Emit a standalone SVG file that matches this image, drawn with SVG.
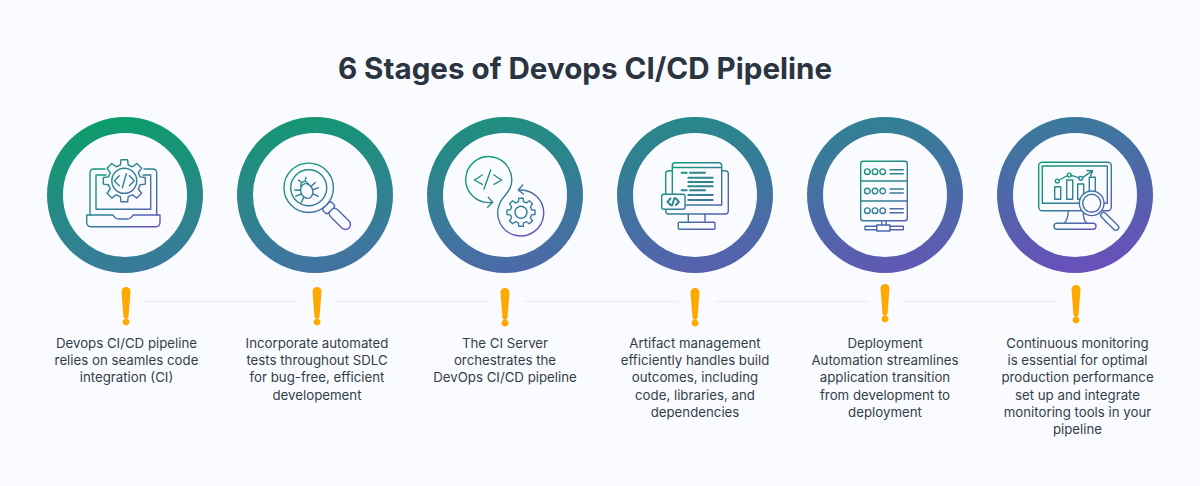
<svg xmlns="http://www.w3.org/2000/svg" xmlns:xlink="http://www.w3.org/1999/xlink" width="1200" height="486" viewBox="0 0 1200 486">
<style>
.bg{fill:#fafbfe}
.ring{fill:none;stroke:url(#ringG);stroke-width:16}
.i{fill:none;stroke:url(#iconG);stroke-width:1.4;stroke-linecap:round;stroke-linejoin:round}
.f{fill:#fafbfe}
.b{stroke-width:2}
.bang{fill:#ffa800}
.link{stroke:#ededf0;stroke-width:1.5}
.t{font-family:Inter,"Liberation Sans",sans-serif;font-size:13.25px;fill:#333d4a;text-anchor:middle}
.title{font-family:Inter,"Liberation Sans",sans-serif;font-size:29.6px;font-weight:700;fill:#2b3440;text-anchor:middle}
</style>
<defs>
<linearGradient id="ringG" gradientUnits="userSpaceOnUse" x1="100" y1="117" x2="150" y2="425">
<stop offset="0" stop-color="#0b9e6a"/><stop offset=".5" stop-color="#3a7a9b"/><stop offset="1" stop-color="#6a4fbb"/>
</linearGradient>
<linearGradient id="iconG" gradientUnits="userSpaceOnUse" x1="-28" y1="-30" x2="30" y2="34">
<stop offset="0" stop-color="#0f9d74"/><stop offset=".55" stop-color="#3a7a9b"/><stop offset="1" stop-color="#6a50c0"/>
</linearGradient>
<path id="bang" d="M-4.5 -13.5a4.5 4.5 0 0 1 9 0L2.6 11a2.6 2.6 0 0 1 -5.2 0ZM0 13.5a3.5 3.5 0 1 0 .01 0Z"/>
</defs>
<rect class="bg" width="1200" height="486"/>
<text class="title" x="585" y="79">6 Stages of Devops CI/CD Pipeline</text>
<g id="connectors">
<line class="link" x1="144" y1="301.5" x2="296" y2="301.5"/>
<line class="link" x1="335" y1="301.5" x2="487" y2="301.5"/>
<line class="link" x1="525" y1="301.5" x2="678" y2="301.5"/>
<line class="link" x1="715" y1="301.5" x2="868" y2="301.5"/>
<line class="link" x1="905" y1="301.5" x2="1057" y2="301.5"/>
</g>
<g id="stage1">
<circle class="ring" cx="125" cy="195" r="70"/>
<g transform="translate(125,195)">
<path class="i" d="M-20 -26H-31Q-35 -26 -35 -22V20M-19 -20H-29V14.3H25.7V-20H18M19 -26H27.7Q31.7 -26 31.7 -22V20"/>
<path class="i" d="M-38.3 20H-12Q-10 24 -6 24H2Q6 24 8 20H35V27Q35 31.7 31 31.7H-34Q-38.3 31.7 -38.3 27Z"/>
<g transform="translate(-.7,-14.2)">
<path class="i f" d="M21 3.3 15.8 3.9 14 8.2 17.3 12.5 12.5 17.3 8.2 14 3.9 15.8 3.3 21H-3.3L-3.9 15.8-8.2 14-12.5 17.3-17.3 12.5-14 8.2-15.8 3.9-21 3.3V-3.3L-15.8 -3.9-14 -8.2-17.3 -12.5-12.5 -17.3-8.2 -14-3.9 -15.8-3.3 -21H3.3L3.9 -15.8 8.2 -14 12.5 -17.3 17.3 -12.5 14 -8.2 15.8 -3.9 21 -3.3Z"/>
<circle class="i" r="12.5"/>
<path class="i" d="M-5 -5-10 0-5 5M5 -5 10 0 5 5M2 -7-2 7"/>
</g>
</g>
</g>
<g id="stage2">
<circle class="ring" cx="315" cy="195" r="70"/>
<g transform="translate(315,195)">
<g transform="translate(-6.3,-7.2) rotate(45)">
<rect class="i" x="31" y="-5" width="26" height="10" rx="5"/>
<rect class="i f" x="24.7" y="-6" width="7" height="12" rx="2"/>
</g>
<circle class="i f" cx="-6.3" cy="-7.2" r="24.7"/>
<circle class="i" cx="-6.3" cy="-7.2" r="18"/>
<g transform="translate(-8.3,-4) rotate(-20)">
<ellipse class="i" rx="6" ry="7.5"/>
<path class="i" d="M-4 -6Q-3 -10 0 -10T4 -6M-2 -10-4 -13M2 -10 4 -13M-6 -3-11 -5M6 -3 11 -5M-6 1-12 1M6 1 12 1M-5 5-9 9M5 5 9 9"/>
</g>
</g>
</g>
<g id="stage3">
<circle class="ring" cx="505" cy="195" r="70"/>
<g transform="translate(505,195)">
<path class="i" d="M-14 7.5A23 23 0 1 1 5.5 -8C3.5 -2 -3.5 3 -5.5 9A23 23 0 1 0 14 -5M-16.7 2.3-12.3 7.3-17.3 12.3M17.7 -10 13.3 -5 18.3 -1"/>
<path class="i" d="M-22.7 -20-30.7 -15-22.7 -10.7M-14.3 -25-21 -6M-11 -20-3.3 -15-11 -10.7"/>
<g transform="translate(16,17.3)">
<path class="i" d="M14 2.2 10.5 2.6 9.4 5.5 11.5 8.4 8.4 11.5 5.5 9.4 2.6 10.5 2.2 14H-2.2L-2.6 10.5-5.5 9.4-8.4 11.5-11.5 8.4-9.4 5.5-10.5 2.6-14 2.2V-2.2L-10.5 -2.6-9.4 -5.5-11.5 -8.4-8.4 -11.5-5.5 -9.4-2.6 -10.5-2.2 -14H2.2L2.6 -10.5 5.5 -9.4 8.4 -11.5 11.5 -8.4 9.4 -5.5 10.5 -2.6 14 -2.2Z"/>
<circle class="i" r="6"/>
</g>
</g>
</g>
<g id="stage4">
<circle class="ring" cx="695" cy="195" r="70"/>
<g transform="translate(695,195)">
<path class="i" d="M-6.7 19V26.7M10 19V26.7"/>
<rect class="i" x="-16.7" y="27.3" width="36.7" height="7" rx="1"/>
<path class="i" d="M-22.7 -24.3H-26.3Q-29.3 -24.3 -29.3 -21.3V16Q-29.3 19 -26.3 19H30.3Q33.3 19 33.3 16V-21.3Q33.3 -24.3 30.3 -24.3H26.7"/>
<path class="i" d="M-22.7 -1V-29.3Q-22.7 -32.3 -19.7 -32.3H23.7Q26.7 -32.3 26.7 -29.3V10H-10M-22.7 -27.5H26.7"/>
<path class="i b" d="M-13.3 -22.3H-8.3M-5 -22.3H10M-6.7 -17.3H-1.7M0 -17.3H17.7M-6.7 -13H-1.7M0 -13H17.7M-6.7 -8.7H-1.7M0 -8.7H17.7M-13.3 -4.7H-8.3M-5 -4.7H10M-6.7 0H-1.7M0 0H17.7M-6.7 5H-1.7M0 5H17.7"/>
<rect class="i f" x="-33.3" y="-.7" width="23.3" height="15" rx="2"/>
<path class="i b" d="M-24.5 3.5-27.5 6.8-24.5 10M-19 3.5-16 6.8-19 10M-20.5 3-23 10.5"/>
</g>
</g>
<g id="stage5">
<circle class="ring" cx="885" cy="195" r="70"/>
<g transform="translate(885,195)">
<rect class="i" x="-24.3" y="-33.7" width="46.6" height="59.4" rx="2.5"/>
<path class="i" d="M-24.3 -14H22.3M-24.3 6H22.3M-3.3 25.7V30M1 25.7V30"/>
<g>
<circle class="i" cx="-17.7" cy="-23.3" r="2.8"/><circle class="i" cx="-10" cy="-23.3" r="2.8"/><circle class="i" cx="-2.3" cy="-23.3" r="2.8"/>
<circle class="i" cx="-17.7" cy="-4" r="2.8"/><circle class="i" cx="-10" cy="-4" r="2.8"/><circle class="i" cx="-2.3" cy="-4" r="2.8"/>
<circle class="i" cx="-17.7" cy="15.7" r="2.8"/><circle class="i" cx="-10" cy="15.7" r="2.8"/><circle class="i" cx="-2.3" cy="15.7" r="2.8"/>
</g>
<path class="i" d="M5 -25.3H18.3M5 -21.3H18.3M5 -6H18.3M5 -2H18.3M5 13.7H18.3M5 17.7H18.3"/>
<path class="i" d="M-8.3 31.3H-20V34.7H-8.3M5 31.3H18.3V34.7H5"/>
<rect class="i" x="-8.3" y="30" width="13.3" height="6"/>
</g>
</g>
<g id="stage6">
<circle class="ring" cx="1075" cy="195" r="70"/>
<g transform="translate(1075,195)">
<rect class="i" x="-36.3" y="-32.7" width="72.6" height="48.4" rx="3.5"/>
<rect class="i" x="-32.7" y="-29" width="65" height="37.3"/>
<path class="i" d="M-6.7 15.7C-7 22-8 26-11 28.3M8.3 15.7C8 22 9 26 12 28.3"/>
<rect class="i" x="-21" y="28.3" width="42" height="6" rx="3"/>
<rect class="i" x="-20.3" y="-8.3" width="6" height="12.6"/>
<rect class="i" x="-8.3" y="-15" width="6" height="19.3"/>
<rect class="i" x="2.7" y="-11" width="6" height="15.3"/>
<rect class="i" x="14.3" y="-17.7" width="6" height="17.7"/>
<path class="i" d="M-15.8 -15-7.6 -19.3M-3.8 -19.7 3.8 -17.3M7.6 -17.3 17.7 -24.3M12 -24.5 17.7 -24.3 15.5 -19"/>
<circle class="i" cx="-17.7" cy="-14" r="1.9"/><circle class="i" cx="-5.7" cy="-20" r="1.9"/><circle class="i" cx="5.7" cy="-16.7" r="1.9"/>
<g transform="translate(16.7,8.3) rotate(45)">
<rect class="i f" x="14" y="-2.8" width="23" height="5.6" rx="2.8"/>
</g>
<circle class="i f" cx="16.7" cy="8.3" r="12.3"/>
<circle class="i" cx="16.7" cy="8.3" r="9"/>
</g>
</g>
<g id="notes">
<g class="bang">
<use xlink:href="#bang" x="126" y="305"/>
<use xlink:href="#bang" x="317" y="305"/>
<use xlink:href="#bang" x="505" y="306"/>
<use xlink:href="#bang" x="695" y="306"/>
<use xlink:href="#bang" x="885" y="302"/>
<use xlink:href="#bang" x="1076" y="303"/>
</g>
<text class="t"><tspan x="126.5" y="347.5">Devops CI/CD pipeline</tspan><tspan x="126.5" y="365">relies on seamles code</tspan><tspan x="126.5" y="382.3">integration (CI)</tspan></text>
<text class="t"><tspan x="317" y="347.5">Incorporate automated</tspan><tspan x="317" y="365">tests throughout SDLC</tspan><tspan x="317" y="382.3">for bug-free, efficient</tspan><tspan x="317" y="399.5">developement</tspan></text>
<text class="t"><tspan x="505" y="347.5">The CI Server</tspan><tspan x="505" y="365">orchestrates the</tspan><tspan x="505" y="382.3">DevOps CI/CD pipeline</tspan></text>
<text class="t"><tspan x="695" y="347.5">Artifact management</tspan><tspan x="695" y="365">efficiently handles build</tspan><tspan x="695" y="382.3">outcomes, including</tspan><tspan x="695" y="399.5">code, libraries, and</tspan><tspan x="695" y="416.8">dependencies</tspan></text>
<text class="t"><tspan x="885" y="348">Deployment</tspan><tspan x="885" y="365">Automation streamlines</tspan><tspan x="885" y="382.3">application transition</tspan><tspan x="885" y="399.5">from development to</tspan><tspan x="885" y="416.8">deployment</tspan></text>
<text class="t"><tspan x="1077.5" y="347.5">Continuous monitoring</tspan><tspan x="1077.5" y="365">is essential for optimal</tspan><tspan x="1077.5" y="382.3">production performance</tspan><tspan x="1077.5" y="399.5">set up and integrate</tspan><tspan x="1077.5" y="416.8">monitoring tools in your</tspan><tspan x="1077.5" y="434">pipeline</tspan></text>
</g>
</svg>
